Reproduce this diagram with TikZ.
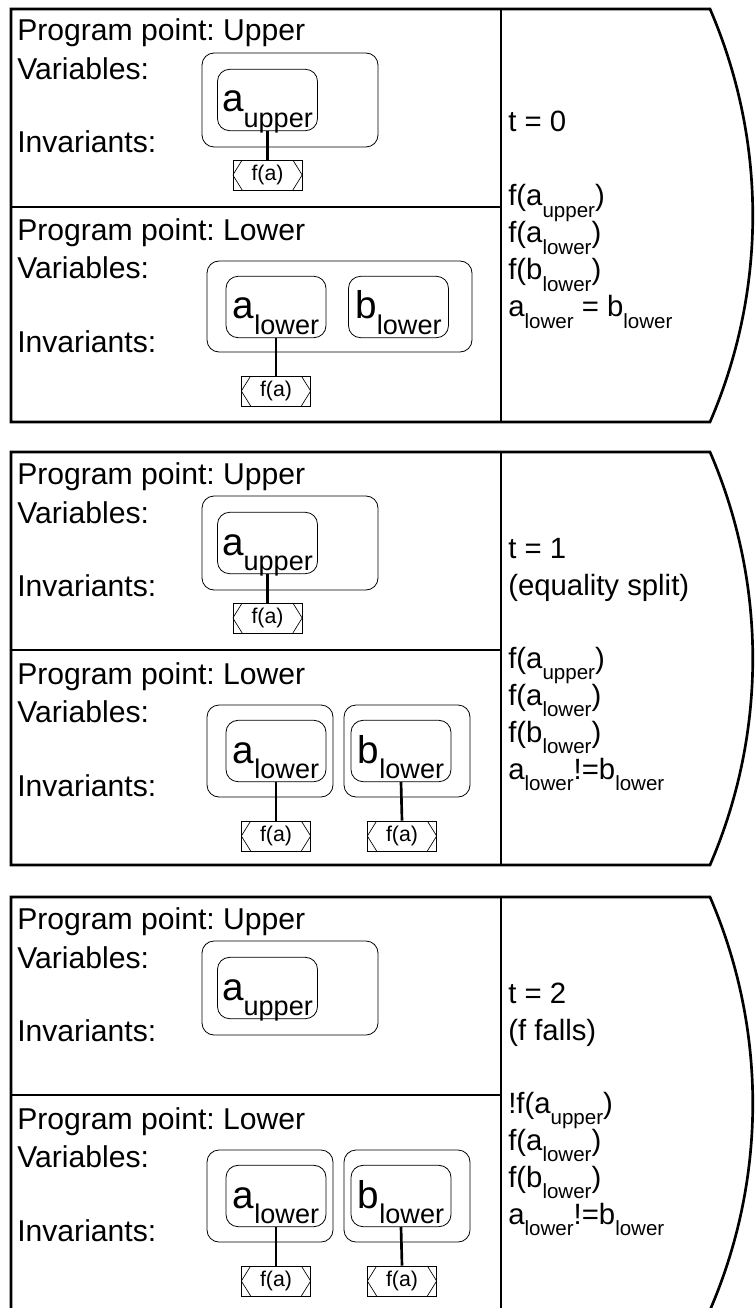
\documentclass[tikz,border=0pt]{standalone}
\usepackage{fontspec}
\setmainfont{Liberation Sans}
\frenchspacing
\newcommand{\lowsub}[1]{\raisebox{-0.4em}{\scalebox{0.7}{#1}}}

\begin{document}
\begin{tikzpicture}[
  x=0.75pt, y=-0.75pt,
  panelline/.style={line width=2pt},
  groupbox/.style={line width=0.6pt, rounded corners=9pt},
  varbox/.style={draw, line width=0.6pt, rounded corners=9pt,
    minimum width=75pt, minimum height=46pt, inner sep=0pt,
    text height=24pt, text depth=6pt,
    font=\fontsize{29}{32}\selectfont},
  factbox/.style={draw, line width=0.5pt, minimum width=52pt,
    minimum height=22.5pt, inner sep=0pt, font=\fontsize{16}{18}\selectfont,
    path picture={
      \draw ([xshift=7pt]path picture bounding box.north west)
        -- (path picture bounding box.west)
        -- ([xshift=7pt]path picture bounding box.south west);
      \draw ([xshift=-7pt]path picture bounding box.north east)
        -- (path picture bounding box.east)
        -- ([xshift=-7pt]path picture bounding box.south east);
    }},
  link/.style={line width=2pt},
  rowtext/.style={anchor=base west, inner sep=0pt, font=\fontsize{22.6}{26}\selectfont},
  stateline/.style={anchor=base west, inner sep=0pt, font=\fontsize{22}{26}\selectfont}
]
  \useasboundingbox (0,0) rectangle (754,1308);

  % Rahmen der drei Zustaende
  \foreach \t in {9,452,897} {
    \begin{scope}[shift={(0,\t)}]
      \draw[panelline] (11,0) -- (710,0)
        .. controls (767,132) and (767,281) .. (710,413)
        -- (11,413) -- cycle;
      \draw[panelline] (501,0) -- (501,413);
      \draw[panelline] (11,198) -- (501,198);
      \node[rowtext] (pu\t) at (17,32)  {Program point: Upper};
      \node[rowtext] (vu\t) at (17,71)  {Variables:};
      \node[rowtext] (iu\t) at (17,144) {Invariants:};
      \node[rowtext] (pl\t) at (17,232) {Program point: Lower};
      \node[rowtext] (vl\t) at (17,270) {Variables:};
      \node[rowtext] (il\t) at (17,344) {Invariants:};
      \draw[groupbox] (202,44) rectangle (378,138);
      \node[varbox] (au\t) at (267.5,91) {a\lowsub{upper}};
    \end{scope}
  }

  % t = 0
  \begin{scope}[shift={(0,9)}]
    \draw[groupbox] (207,252) rectangle (472,343);
    \node[varbox] (al1) at (276,298) {a\lowsub{lower}};
    \node[varbox] (bl1) at (398.5,298) {b\lowsub{lower}};
    \node[factbox] (fu1) at (267.5,166) {f(a)};
    \node[factbox] (fa1) at (276,382) {f(a)};
    \draw[link] (au9.south) -- (fu1.north);
    \draw[link] (al1.south) -- (fa1.north);

    \node[stateline] (t1) at (508,123) {t = 0};
    \node[stateline] (s11) at (508,197) {f(a\lowsub{upper})};
    \node[stateline] (s12) at (508,234) {f(a\lowsub{lower})};
    \node[stateline] (s13) at (508,271) {f(b\lowsub{lower})};
    \node[stateline] (s14) at (508,308) {a\lowsub{lower} = b\lowsub{lower}};
  \end{scope}

  % t = 1
  \begin{scope}[shift={(0,452)}]
    \draw[groupbox] (207,253) rectangle (333,345);
    \draw[groupbox] (344,253) rectangle (470,345);
    \node[varbox] (al2) at (276,299) {a\lowsub{lower}};
    \node[varbox] (bl2) at (401,299) {b\lowsub{lower}};
    \node[factbox] (fu2) at (267.5,166) {f(a)};
    \node[factbox] (fa2) at (276,384) {f(a)};
    \node[factbox] (fb2) at (402,384) {f(a)};
    \draw[link] (au452.south) -- (fu2.north);
    \draw[link] (al2.south) -- (fa2.north);
    \draw[link] (bl2.south) -- (fb2.north);

    \node[stateline] (t2) at (508,106) {t = 1};
    \node[stateline] (r2) at (508,143) {(equality split)};
    \node[stateline] (s21) at (508,216) {f(a\lowsub{upper})};
    \node[stateline] (s22) at (508,253) {f(a\lowsub{lower})};
    \node[stateline] (s23) at (508,290) {f(b\lowsub{lower})};
    \node[stateline] (s24) at (508,327) {a\lowsub{lower}!=b\lowsub{lower}};
  \end{scope}

  % t = 2
  \begin{scope}[shift={(0,897)}]
    \draw[groupbox] (207,253) rectangle (333,345);
    \draw[groupbox] (344,253) rectangle (470,345);
    \node[varbox] (al3) at (276,299) {a\lowsub{lower}};
    \node[varbox] (bl3) at (401,299) {b\lowsub{lower}};
    \node[factbox] (fa3) at (276,384) {f(a)};
    \node[factbox] (fb3) at (402,384) {f(a)};
    \draw[link] (al3.south) -- (fa3.north);
    \draw[link] (bl3.south) -- (fb3.north);

    \node[stateline] (t3) at (508,106) {t = 2};
    \node[stateline] (r3) at (508,143) {(f falls)};
    \node[stateline] (s31) at (508,216) {!f(a\lowsub{upper})};
    \node[stateline] (s32) at (508,253) {f(a\lowsub{lower})};
    \node[stateline] (s33) at (508,290) {f(b\lowsub{lower})};
    \node[stateline] (s34) at (508,327) {a\lowsub{lower}!=b\lowsub{lower}};
  \end{scope}
\end{tikzpicture}
\end{document}
